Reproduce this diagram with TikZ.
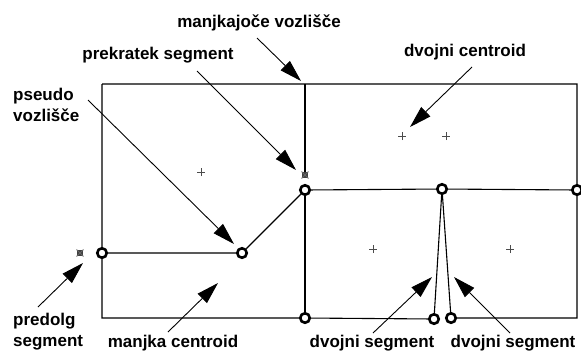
\documentclass[tikz,border=0pt]{standalone}
\usepackage{fontspec}
\setmainfont{Liberation Sans}
\usetikzlibrary{arrows.meta}
\tikzset{
  vtx/.style={circle,draw,line width=2.6bp,fill=white,inner sep=0pt,minimum size=9.5bp},
  xmark/.style={rectangle,fill=black!75,inner sep=0pt,minimum size=6.5bp},
  edge/.style={line width=1.1bp},
  pointer/.style={line width=0.9bp,-{Triangle[length=22bp,width=13bp]}},
  lbl/.style={font=\fontsize{17bp}{21bp}\selectfont\bfseries,inner sep=0pt},
  cent/.style={line width=0.6bp,black!70}
}
\begin{document}
\begin{tikzpicture}[x=1bp,y=-1bp]
\useasboundingbox (0,0) rectangle (581,354);
% corners
\coordinate (tl) at (102,84);
\coordinate (tr) at (577,84);
\coordinate (bl) at (102,318);
\coordinate (br) at (577,318);
\coordinate (tm) at (305,84);
% vertices
\node[vtx] (vl) at (102,253) {};
\node[vtx] (vp) at (242,253) {};
\node[vtx] (vc) at (305,190) {};
\node[vtx] (vm) at (442,189) {};
\node[vtx] (vr) at (577,190) {};
\node[vtx] (vb) at (305,318) {};
\node[vtx] (vd1) at (434,319) {};
\node[vtx] (vd2) at (451,318) {};
\node[xmark] (xl) at (80,253) {};
\node[xmark] (xt) at (305,175) {};
% outer frame
\draw[edge] (tl) -- (tr) -- (vr) -- (br) -- (vd2) (vd1) -- (vb) -- (bl) -- (vl) -- (tl);
% inner edges
\draw[edge] (tm) -- (xt);
\draw[edge] (vl) -- (vp) -- (vc) -- (vm) -- (vr);
\draw[edge] (vc) -- (vb);
\draw[edge] (vm) -- (vd1);
\draw[edge] (vm) -- (vd2);
\draw[line width=1bp,black!60] (xl.south west) -- (xl.north east) (xl.north west) -- (xl.south east)
  (xt.south west) -- (xt.north east) (xt.north west) -- (xt.south east);
% centroids
\foreach \n/\x/\y in {c1/201/172,c2/402/136,c3/446/136,c4/373/249,c5/510/249}{
  \coordinate (\n) at (\x,\y);
  \draw[cent] ([xshift=-4bp]\n) -- ([xshift=4bp]\n) ([yshift=-4bp]\n) -- ([yshift=4bp]\n);
}
% labels
\node[lbl] (l1) at (259,23) {manjkajoče vozlišče};
\node[lbl] (l2) at (158,55) {prekratek segment};
\node[lbl,align=left,anchor=west] (l3) at (13,105) {pseudo\\vozlišče};
\node[lbl] (l4) at (465,52) {dvojni centroid};
\node[lbl,align=left,anchor=west] (l5) at (13,332) {predolg\\segment};
\node[lbl] (l6) at (173,343) {manjka centroid};
\node[lbl] (l7) at (372,343) {dvojni segment};
\node[lbl] (l8) at (513,343) {dvojni segment};
% pointer coordinates
\coordinate (a1s) at (257,38);  \coordinate (a1e) at (301,81);
\coordinate (a2s) at (197,71);  \coordinate (a2e) at (296,170);
\coordinate (a3s) at (88,100);  \coordinate (a3e) at (234,244);
\coordinate (a4s) at (472,67);  \coordinate (a4e) at (410,127);
\coordinate (a5s) at (38,307);  \coordinate (a5e) at (83,263);
\coordinate (a6s) at (168,332); \coordinate (a6e) at (218,283);
\coordinate (a7s) at (373,333); \coordinate (a7e) at (432,277);
\coordinate (a8s) at (510,333); \coordinate (a8e) at (454,277);
\foreach \i in {1,...,8}{\draw[pointer] (a\i s) -- (a\i e);}
\end{tikzpicture}
\end{document}
